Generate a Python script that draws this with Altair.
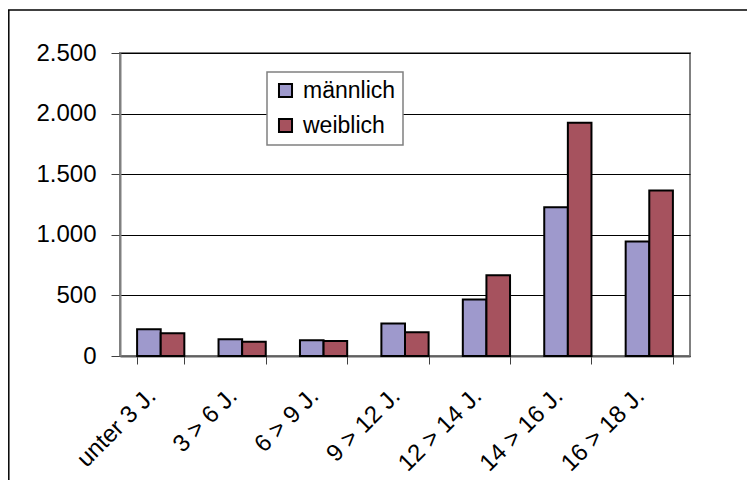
import altair as alt
import pandas as pd

categories = ["unter 3 J.", "3 > 6 J.", "6 > 9 J.", "9 > 12 J.", "12 > 14 J.", "14 > 16 J.", "16 > 18 J."]
maennlich = [220, 138, 129, 269, 467, 1227, 945]
weiblich = [187, 118, 124, 195, 667, 1925, 1365]
series = ["männlich", "weiblich"]
colors = ["#9E99CC", "#A6525E"]
y_ticks = [0, 500, 1000, 1500, 2000, 2500]

rows = []
for c, m, w in zip(categories, maennlich, weiblich):
    rows.append({"Alter": c, "Geschlecht": series[0], "Anzahl": m})
    rows.append({"Alter": c, "Geschlecht": series[1], "Anzahl": w})
df = pd.DataFrame(rows)

FONT = "Liberation Sans"
W, H = 570, 303

bars = alt.Chart(df).mark_bar(stroke="black", strokeWidth=2).encode(
    x=alt.X(
        "Alter:N", sort=categories, title=None,
        scale=alt.Scale(paddingInner=0.42, paddingOuter=0.21),
        axis=alt.Axis(
            labelAngle=-45, labelAlign="right", labelBaseline="middle",
            tickBand="extent", labelFont=FONT, labelFontSize=24,
            labelColor="black", domainColor="#606060", domainWidth=2,
            tickColor="#404040", tickSize=8, tickWidth=1,
            labelPadding=28, labelOffset=-9,
            grid=False,
        ),
    ),
    xOffset=alt.XOffset("Geschlecht:N", sort=series, scale=alt.Scale(paddingInner=0, paddingOuter=0)),
    y=alt.Y(
        "Anzahl:Q", title=None,
        scale=alt.Scale(domain=[0, 2500], nice=False),
        axis=alt.Axis(
            values=y_ticks, labelFont=FONT, labelFontSize=24, labelColor="black",
            labelExpr="replace(format(datum.value, ','), ',', '.')",
            domainColor="#808080", domainWidth=2, tickColor="#404040",
            tickSize=9, tickWidth=1, labelPadding=15,
            grid=True, gridColor="black", gridWidth=1,
        ),
    ),
    color=alt.Color(
        "Geschlecht:N", sort=series,
        scale=alt.Scale(domain=series, range=colors),
        legend=alt.Legend(
            title=None, orient="none", legendX=147, legendY=19,
            symbolType="square", symbolSize=170, symbolStrokeColor="black",
            symbolStrokeWidth=2, labelFont=FONT, labelFontSize=23,
            labelColor="black", labelOffset=6, rowPadding=11, padding=7,
            fillColor="white", strokeColor="#808080",
            labelLimit=200,
        ),
    ),
)

frame_top = alt.Chart(alt.Data(values=[{}])).mark_rule(
    color="black", strokeWidth=1.5
).encode(
    x=alt.value(-112), x2=alt.value(W + 57), y=alt.value(-43),
)
frame_left = alt.Chart(alt.Data(values=[{}])).mark_rule(
    color="black", strokeWidth=1.5
).encode(
    x=alt.value(-111.2), y=alt.value(-43), y2=alt.value(H + 124),
)

chart = alt.layer(frame_top, frame_left, bars).properties(
    width=W, height=H,
    autosize=alt.AutoSizeParams(type="none"),
    padding={"left": 112, "top": 45, "right": 57, "bottom": 124},
).configure_view(
    stroke="#808080", strokeWidth=2
).configure_legend(
    strokeWidth=1.5
)

chart.save("out.html", embed_options={"renderer": "svg", "actions": False})
